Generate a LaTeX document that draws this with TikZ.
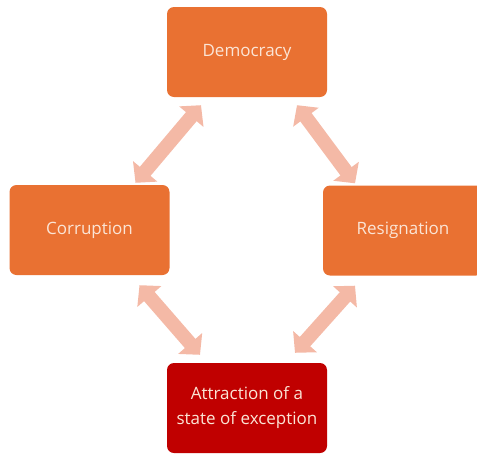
\documentclass[tikz,border=0pt]{standalone}
\usepackage{fontspec}
\setmainfont{Open Sans}
\usetikzlibrary{arrows.meta,calc}
\definecolor{boxorange}{HTML}{E97132}
\definecolor{boxred}{HTML}{C00000}
\definecolor{boxtext}{HTML}{FBE5D6}
\definecolor{arrowpink}{HTML}{F4B9A6}
\begin{document}
\begin{tikzpicture}[x=1pt,y=-1pt,
  box/.style={rectangle, rounded corners=7pt, fill=boxorange, text=boxtext,
    minimum width=160pt, minimum height=90pt, inner sep=0pt, align=center,
    font=\fontsize{17}{25}\selectfont},
  redbox/.style={box, fill=boxred},
  dblarrow/.style={draw=arrowpink, line width=14pt,
    {Triangle[width=31pt,length=15pt]}-{Triangle[width=31pt,length=15pt]}}]
\useasboundingbox (0,0) rectangle (477,453);
\node[box] (demo) at (247,52) {Democracy};
\node[box] (corr) at (89.5,230) {Corruption};
\node[box] (resi) at (403,230.5) {Resignation};
\node[redbox] (attr) at (247,408) {Attraction of a\\state of exception};
\draw[dblarrow] ($(corr.north)+(46,-2)$) -- ($(demo.south)+(-46,8)$);
\draw[dblarrow] ($(demo.south)+(50,8)$) -- ($(resi.north)+(-48,-2)$);
\draw[dblarrow] ($(corr.south)+(50,10)$) -- ($(attr.north)+(-47,-8)$);
\draw[dblarrow] ($(attr.north)+(48,-10)$) -- ($(resi.south)+(-48,10)$);
\end{tikzpicture}
\end{document}
